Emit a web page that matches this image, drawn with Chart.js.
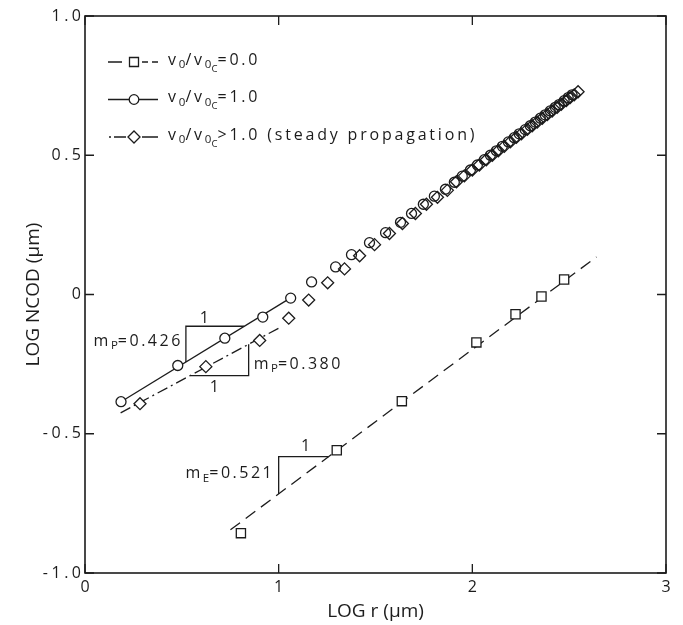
<!DOCTYPE html>
<html>
<head>
<meta charset="utf-8">
<script src="https://cdn.jsdelivr.net/npm/chart.js@4.4.1/dist/chart.umd.min.js"></script>
<style>
  body { margin: 0; background: #fff; }
</style>
</head>
<body>
<canvas id="ncodChart" width="683" height="625"></canvas>
<script>
  // values (LOG r, LOG NCOD)
  var circleX = [0.186, 0.479, 0.722, 0.918, 1.062, 1.170, 1.294, 1.376, 1.469, 1.552, 1.629, 1.686, 1.747, 1.804, 1.861, 1.907,
    1.948, 1.990, 2.026, 2.062, 2.093, 2.124, 2.155, 2.186, 2.216, 2.242, 2.273, 2.299, 2.325, 2.351, 2.376, 2.402, 2.428, 2.448, 2.474, 2.495, 2.515];
  var circleY = [-0.385, -0.255, -0.157, -0.081, -0.013, 0.045, 0.099, 0.143, 0.186, 0.222, 0.259, 0.291, 0.324, 0.353, 0.378, 0.403,
    0.425, 0.447, 0.465, 0.484, 0.500, 0.516, 0.532, 0.548, 0.563, 0.577, 0.592, 0.606, 0.619, 0.633, 0.645, 0.659, 0.672, 0.682, 0.696, 0.707, 0.717];

  var diamondX = [0.284, 0.624, 0.902, 1.052, 1.155, 1.253, 1.340, 1.418, 1.495, 1.572, 1.639, 1.706, 1.763, 1.820, 1.871,
    1.918, 1.959, 2.000, 2.036, 2.072, 2.103, 2.134, 2.165, 2.196, 2.227, 2.253, 2.284, 2.309, 2.335, 2.361, 2.387, 2.412, 2.438, 2.459, 2.485, 2.505, 2.526, 2.546];
  var diamondY = [-0.392, -0.259, -0.165, -0.085, -0.020, 0.042, 0.092, 0.139, 0.179, 0.219, 0.255, 0.291, 0.324, 0.349, 0.374,
    0.405, 0.426, 0.447, 0.465, 0.484, 0.500, 0.516, 0.532, 0.548, 0.564, 0.577, 0.593, 0.606, 0.619, 0.633, 0.646, 0.659, 0.672, 0.683, 0.696, 0.707, 0.717, 0.728];

  var squareX = [0.805, 1.300, 1.636, 2.021, 2.223, 2.357, 2.474];
  var squareY = [-0.857, -0.559, -0.383, -0.172, -0.071, -0.007, 0.054];

  // fitted lines (end points)
  var fitCircleX = [0.186, 1.062];
  var fitCircleY = [-0.385, -0.012];
  var fitDiamondX = [0.184, 1.000];
  var fitDiamondY = [-0.425, -0.121];
  var fitSquareX = [0.751, 2.641];
  var fitSquareY = [-0.845, 0.135];

  // slope triangles
  var triCircleX = [0.521, 0.521, 0.822];
  var triCircleY = [-0.242, -0.114, -0.114];
  var triDiamondX = [0.544, 0.845, 0.845];
  var triDiamondY = [-0.291, -0.291, -0.179];
  var triSquareX = [1.000, 1.000, 1.259];
  var triSquareY = [-0.716, -0.582, -0.582];

  var xTickValues = [0, 1, 2, 3];
  var xTickLabels = ['0', '1', '2', '3'];
  var yTickValues = [-1, -0.5, 0, 0.5, 1];
  var yTickLabels = ['-1.0', '-0.5', '0', '0.5', '1.0'];

  var ink = '#1c1c1c';
  var fontFamily = '"Open Sans", "DejaVu Sans", sans-serif';

  function pts(xs, ys) {
    return xs.map(function (x, i) { return { x: x, y: ys[i] }; });
  }
  // hollow markers on the fitted part, see-through in the crowded part
  function hollow(ctx) {
    return ctx.raw && ctx.raw.x < 1.1 ? '#fff' : 'rgba(255,255,255,0)';
  }
  function lineSet(xs, ys, dash, order) {
    return {
      data: pts(xs, ys), showLine: true, pointRadius: 0, borderColor: ink,
      borderWidth: 1.3, borderDash: dash, order: order, fill: false
    };
  }

  // text with subscripts: parts = [[text, level], ...]
  function richText(ctx, parts, x, y, size, align, spacing) {
    var sizes = [size, size * 0.72, size * 0.6];
    var shifts = [0, size * 0.3, size * 0.55];
    var total = 0;
    parts.forEach(function (p) {
      ctx.font = sizes[p[1]] + 'px ' + fontFamily;
      ctx.letterSpacing = (p[1] === 0 ? spacing : 0) + 'px';
      p.w = ctx.measureText(p[0]).width;
      total += p.w;
    });
    var cx = align === 'right' ? x - total : (align === 'center' ? x - total / 2 : x);
    ctx.textBaseline = 'middle';
    ctx.textAlign = 'left';
    parts.forEach(function (p) {
      ctx.font = sizes[p[1]] + 'px ' + fontFamily;
      ctx.letterSpacing = (p[1] === 0 ? spacing : 0) + 'px';
      ctx.fillText(p[0], cx, y + shifts[p[1]]);
      cx += p.w;
    });
    ctx.letterSpacing = '0px';
  }

  var legendRows = [
    { parts: [['v', 0], ['0', 1], ['/', 0], ['v', 0], ['0', 1], ['C', 2], ['=0.0', 0]], marker: 'rect' },
    { parts: [['v', 0], ['0', 1], ['/', 0], ['v', 0], ['0', 1], ['C', 2], ['=1.0', 0]], marker: 'circle' },
    { parts: [['v', 0], ['0', 1], ['/', 0], ['v', 0], ['0', 1], ['C', 2], ['>1.0 (steady propagation)', 0]], marker: 'rectRot' }
  ];

  var notes = [
    { parts: [['1', 0]], x: 0.622, y: -0.085, align: 'center' },
    { parts: [['m', 0], ['P', 1], ['=0.426', 0]], x: 0.505, y: -0.168, align: 'right' },
    { parts: [['m', 0], ['P', 1], ['=0.380', 0]], x: 0.871, y: -0.251, align: 'left' },
    { parts: [['1', 0]], x: 0.674, y: -0.332, align: 'center' },
    { parts: [['1', 0]], x: 1.146, y: -0.546, align: 'center' },
    { parts: [['m', 0], ['E', 1], ['=0.521', 0]], x: 0.977, y: -0.644, align: 'right' }
  ];

  var framePlugin = {
    id: 'frame',
    afterDraw: function (chart) {
      var c = chart.ctx, a = chart.chartArea, sx = chart.scales.x, sy = chart.scales.y;
      c.save();
      c.strokeStyle = ink;
      c.lineWidth = 1.6;
      c.strokeRect(a.left, a.top, a.right - a.left, a.bottom - a.top);
      c.lineWidth = 1.3;
      c.beginPath();
      xTickValues.forEach(function (v) {
        var px = sx.getPixelForValue(v);
        c.moveTo(px, a.bottom); c.lineTo(px, a.bottom - 9);
        c.moveTo(px, a.top); c.lineTo(px, a.top + 9);
      });
      yTickValues.forEach(function (v) {
        var py = sy.getPixelForValue(v);
        c.moveTo(a.left, py); c.lineTo(a.left + 9, py);
        c.moveTo(a.right, py); c.lineTo(a.right - 9, py);
      });
      c.stroke();
      // spaced-out y tick labels, as on the typed original
      c.fillStyle = ink;
      c.font = '16px ' + fontFamily;
      c.letterSpacing = '3.5px';
      c.textAlign = 'right';
      c.textBaseline = 'middle';
      yTickValues.forEach(function (v, i) {
        c.fillText(yTickLabels[i], a.left - 4 + 3.5, sy.getPixelForValue(v));
      });
      c.letterSpacing = '0px';
      c.restore();
    }
  };

  var legendPlugin = {
    id: 'oldLegend',
    afterDraw: function (chart) {
      var c = chart.ctx, a = chart.chartArea;
      c.save();
      c.strokeStyle = ink;
      c.fillStyle = ink;
      c.lineWidth = 1.3;
      legendRows.forEach(function (row, i) {
        var y = a.top + 46 + i * 37.5;
        var x0 = a.left + 23, mx = a.left + 49;
        c.beginPath();
        if (row.marker === 'rect') {
          c.moveTo(x0, y); c.lineTo(x0 + 14, y);
          c.moveTo(x0 + 34, y); c.lineTo(x0 + 40, y);
          c.moveTo(x0 + 44, y); c.lineTo(x0 + 50, y);
        } else if (row.marker === 'circle') {
          c.moveTo(x0, y); c.lineTo(x0 + 50, y);
        } else {
          c.moveTo(x0 + 1, y); c.lineTo(x0 + 3, y);
          c.moveTo(x0 + 6, y); c.lineTo(x0 + 18, y);
          c.moveTo(x0 + 34, y); c.lineTo(x0 + 50, y);
        }
        c.stroke();
        c.beginPath();
        if (row.marker === 'rect') {
          c.rect(mx - 4.5, y - 4.5, 9, 9);
        } else if (row.marker === 'circle') {
          c.arc(mx, y, 4.8, 0, Math.PI * 2);
        } else {
          c.moveTo(mx - 6, y); c.lineTo(mx, y - 6); c.lineTo(mx + 6, y); c.lineTo(mx, y + 6); c.closePath();
        }
        c.fillStyle = '#fff';
        c.fill();
        c.stroke();
        c.fillStyle = ink;
        richText(c, row.parts, a.left + 83, y - 2, 16, 'left', 2.8);
      });
      notes.forEach(function (n) {
        richText(c, n.parts, chart.scales.x.getPixelForValue(n.x), chart.scales.y.getPixelForValue(n.y), 16, n.align, 2.5);
      });
      c.restore();
    }
  };

  var ctxN = document.getElementById('ncodChart').getContext('2d');
  var ncodChart = new Chart(ctxN, {
    type: 'scatter',
    data: {
      datasets: [
        {
          label: 'v0/v0c=0.0', data: pts(squareX, squareY), pointStyle: 'rect', pointRadius: 6.5,
          borderColor: ink, backgroundColor: '#fff', pointBorderWidth: 1.3, order: 1
        },
        {
          label: 'v0/v0c=1.0', data: pts(circleX, circleY), pointStyle: 'circle', pointRadius: 5,
          borderColor: ink, backgroundColor: hollow, pointBorderWidth: 1.3, order: 2
        },
        {
          label: 'v0/v0c>1.0 (steady propagation)', data: pts(diamondX, diamondY), pointStyle: 'rectRot', pointRadius: 6,
          borderColor: ink, backgroundColor: hollow, pointBorderWidth: 1.3, order: 3
        },
        lineSet(fitCircleX, fitCircleY, [], 4),
        lineSet(fitDiamondX, fitDiamondY, [11, 4, 2, 4], 5),
        lineSet(fitSquareX, fitSquareY, [12, 7], 6),
        lineSet(triCircleX, triCircleY, [], 7),
        lineSet(triDiamondX, triDiamondY, [], 8),
        lineSet(triSquareX, triSquareY, [], 9)
      ]
    },
    options: {
      responsive: false,
      animation: false,
      layout: { padding: { top: 16, right: 17, left: 0, bottom: 0 } },
      plugins: { legend: { display: false }, tooltip: { enabled: false } },
      scales: {
        x: {
          type: 'linear', min: 0, max: 3,
          afterBuildTicks: function (s) { s.ticks = xTickValues.map(function (v) { return { value: v }; }); },
          ticks: {
            color: ink, padding: 5, font: { family: fontFamily, size: 16 },
            callback: function (v) { return xTickLabels[xTickValues.indexOf(v)]; }
          },
          grid: { display: false, drawTicks: false },
          border: { display: false },
          title: { display: true, text: 'LOG r (\u03bcm)', color: ink, font: { family: fontFamily, size: 19 }, padding: { top: 0, bottom: 2 } },
          afterFit: function (s) { s.height = 52; }
        },
        y: {
          type: 'linear', min: -1, max: 1,
          afterBuildTicks: function (s) { s.ticks = yTickValues.map(function (v) { return { value: v }; }); },
          ticks: { display: false },
          grid: { display: false, drawTicks: false },
          border: { display: false },
          title: { display: true, text: 'LOG NCOD (\u03bcm)', color: ink, font: { family: fontFamily, size: 19 }, padding: { top: 22, bottom: 0 } },
          afterFit: function (s) { s.width = 85; }
        }
      }
    },
    plugins: [framePlugin, legendPlugin]
  });
</script>
</body>
</html>
